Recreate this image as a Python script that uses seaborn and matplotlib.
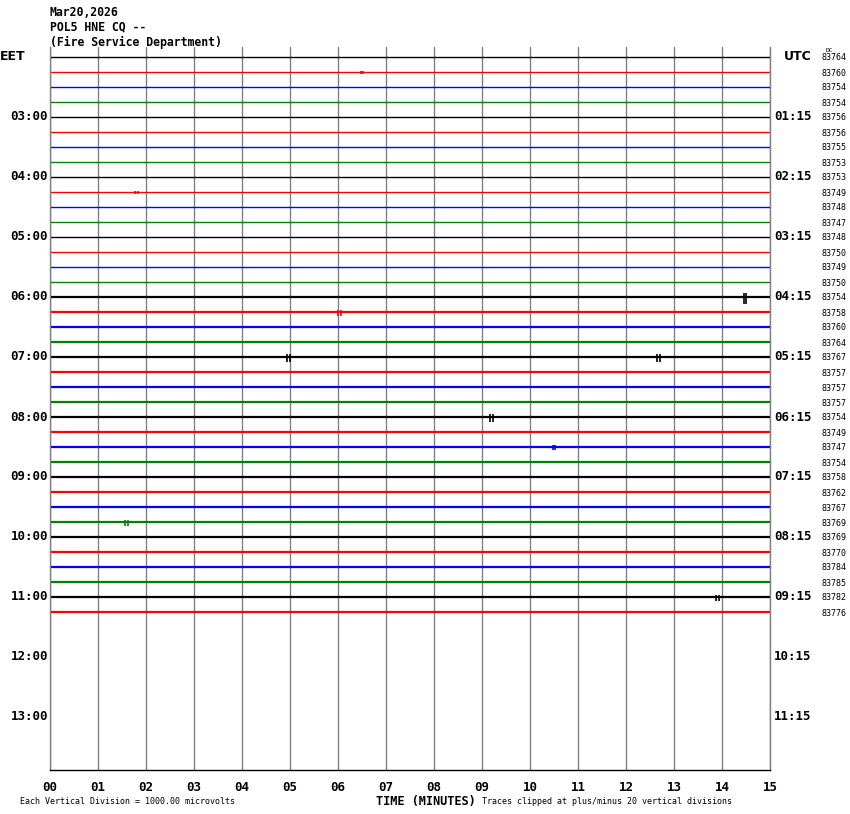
import matplotlib
matplotlib.use("Agg")
import matplotlib.pyplot as plt
from matplotlib.ticker import MultipleLocator, FuncFormatter
import seaborn as sns
import pandas as pd

# helicorder rows: one trace every 15 minutes, 02:00 .. 11:15 EET
eet_labels = ["EET", "03:00", "04:00", "05:00", "06:00", "07:00", "08:00",
              "09:00", "10:00", "11:00", "12:00", "13:00"]
utc_labels = ["UTC", "01:15", "02:15", "03:15", "04:15", "05:15", "06:15",
              "07:15", "08:15", "09:15", "10:15", "11:15"]
dc_values = [83764, 83760, 83754, 83754, 83756, 83756, 83755, 83753,
             83753, 83749, 83748, 83747, 83748, 83750, 83749, 83750,
             83754, 83758, 83760, 83764, 83767, 83757, 83757, 83757,
             83754, 83749, 83747, 83754, 83758, 83762, 83767, 83769,
             83769, 83770, 83784, 83785, 83782, 83776]
trace_colors = ["black", "#ff0000", "#0000ff", "#008000"]

# visible events: row, minute, half amplitude (in row spacings)
ev_row = [16, 17, 20, 20, 24, 31, 36, 26, 9, 1]
ev_min = [14.48, 6.04, 4.96, 12.67, 9.2, 1.6, 13.9, 10.5, 1.8, 6.5]
ev_amp = [0.45, 0.25, 0.3, 0.3, 0.35, 0.25, 0.25, 0.2, 0.15, 0.1]

n_rows = len(dc_values)
W, H = 850, 814

sns.set_style("white")
plt.rcParams["font.family"] = ["DejaVu Sans Mono", "DejaVu Sans"]
plt.rcParams["text.color"] = "black"
plt.rcParams["xtick.color"] = "black"
plt.rcParams["xtick.labelcolor"] = "black"

fig = plt.figure(figsize=(W / 100, H / 100), dpi=100)
top_px, bot_px, left_px, right_px = 47, 770, 50, 770
ax = fig.add_axes([left_px / W, 1 - bot_px / H,
                   (right_px - left_px) / W, (bot_px - top_px) / H])

def row_of(px):
    return (px - 57) / 15.0

# traces
df = pd.DataFrame({
    "row": [r for r in range(n_rows) for _ in (0, 1)],
    "minute": [m for _ in range(n_rows) for m in (0, 15)],
})
df["y"] = df["row"]
for r in range(n_rows):
    sub = df[df["row"] == r]
    sns.lineplot(data=sub, x="minute", y="y", color=trace_colors[r % 4],
                 lw=1.0 if r < 16 else 1.6, ax=ax, legend=False,
                 estimator=None)

for r, m, a in zip(ev_row, ev_min, ev_amp):
    ax.vlines([m - 0.03, m + 0.03], r - a * 0.6, r + a,
              color=trace_colors[r % 4], lw=1.2)

ax.set_xlim(0, 15)
ax.set_ylim(row_of(bot_px), row_of(top_px))
ax.set_xlabel("")
ax.set_ylabel("")

# minute grid
ax.xaxis.set_major_locator(MultipleLocator(1))
ax.xaxis.set_minor_locator(MultipleLocator(1 / 6))
ax.xaxis.set_major_formatter(FuncFormatter(lambda v, p: "%02d" % v))
ax.grid(axis="x", which="major", color="#808080", lw=1.0)
ax.set_axisbelow(True)
ax.tick_params(axis="x", which="both", direction="out", length=5,
               width=1, color="black", pad=3, labelsize=9)
for t in ax.get_xticklabels():
    t.set_fontweight("bold")
ax.set_yticks([])
for s in ("left", "right"):
    ax.spines[s].set_color("#808080")
    ax.spines[s].set_linewidth(1.0)
ax.spines["top"].set_visible(False)
ax.spines["bottom"].set_color("black")
ax.spines["bottom"].set_linewidth(1.0)

# hour labels
for i, (le, ru) in enumerate(zip(eet_labels, utc_labels)):
    y = 1 - (57 + 60 * i) / H
    if i == 0:
        fig.text(0 / W, y, le, ha="left", va="center", fontsize=9,
                 fontweight="bold", family="DejaVu Sans")
        fig.text(784 / W, y, ru, ha="left", va="center", fontsize=9,
                 fontweight="bold", family="DejaVu Sans")
    else:
        fig.text(48 / W, y, le, ha="right", va="center", fontsize=9,
                 fontweight="bold")
        fig.text(774 / W, y, ru, ha="left", va="center", fontsize=9,
                 fontweight="bold")

# DC levels
fig.text(826 / W, 1 - 51 / H, "DC", ha="left", va="center", fontsize=4.5)
for r, v in enumerate(dc_values):
    fig.text(821 / W, 1 - (58 + 15 * r) / H, str(v), ha="left",
             va="center", fontsize=6)

# header
for k, line in enumerate(["Mar20,2026", "POL5 HNE CQ --",
                          "(Fire Service Department)"]):
    fig.text(50 / W, 1 - (12 + 15 * k) / H, line, ha="left", va="center",
             fontsize=8.3, fontweight="bold")

# footer
fig.text(426 / W, 1 - 801 / H, "TIME (MINUTES)", ha="center", va="center",
         fontsize=8.6, fontweight="bold")
fig.text(20 / W, 1 - 801 / H, "Each Vertical Division = 1000.00 microvolts",
         ha="left", va="center", fontsize=6)
fig.text(482 / W, 1 - 801 / H,
         "Traces clipped at plus/minus 20 vertical divisions",
         ha="left", va="center", fontsize=6)

fig.savefig("out.png", dpi=100, facecolor="white")
